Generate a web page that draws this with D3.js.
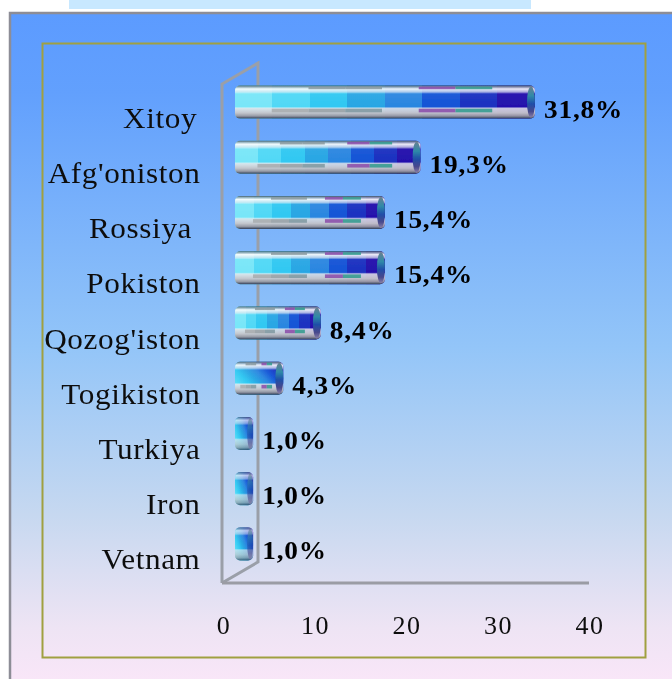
<!DOCTYPE html>
<html><head><meta charset="utf-8">
<script src="https://cdn.jsdelivr.net/npm/d3@7"></script>
<style>html,body{margin:0;padding:0;background:#fff;overflow:hidden}svg{display:block}text{font-family:"Liberation Serif",serif}</style>
</head><body><svg id="c" width="672" height="679"></svg>
<script>
const categories=["Xitoy\u200a","Afg'oniston","Rossiya ","Pokiston","Qozog'iston","Togikiston","Turkiya","Iron","Vetnam"];
const values=[31.8,19.3,15.4,15.4,8.4,4.3,1.0,1.0,1.0];
const valueLabels=["31,8%","19,3%","15,4%","15,4%","8,4%","4,3%","1,0%","1,0%","1,0%"];
const ticks=[0,10,20,30,40];
const bandColors=["#78e6f8","#50d8f6","#30c8f2","#28a6e4","#2a86e0","#1454d6","#1a30c0","#2410ac"];
const bandTopMarks=[null,null,"#8a9aa0","#8a9aa0",null,"#8a4aa8","#2f9a8c",null];
const bandBottomMarks=[null,"#a8acae","#98a0a4","#7f98a0",null,"#8a4aa8","#2f9a8c",null];
const svg=d3.select("#c"),defs=svg.append("defs");
const x=d3.scaleLinear().domain([0,40]).range([223,589]);
const y=d3.scaleBand().domain(categories).range([74.5,571.5]).paddingInner(0).paddingOuter(0);
const soft=defs.append("filter").attr("id","soft").attr("x","-5%").attr("y","-5%").attr("width","110%").attr("height","110%");
soft.append("feGaussianBlur").attr("stdDeviation",0.55);
const softT=defs.append("filter").attr("id","softT").attr("x","-5%").attr("y","-10%").attr("width","110%").attr("height","120%");
softT.append("feGaussianBlur").attr("stdDeviation",0.3);
const bg=defs.append("linearGradient").attr("id","bg").attr("x1",0).attr("y1",0).attr("x2",0).attr("y2",1);
[[0,"#5c9bff"],[.12,"#62a0fd"],[.5,"#93c5f8"],[.75,"#c6d8f0"],[.92,"#eee4f4"],[1,"#f9e6f8"]].forEach(s=>bg.append("stop").attr("offset",s[0]).attr("stop-color",s[1]));
const bands=defs.append("linearGradient").attr("id","bands");
bandColors.forEach((c,i)=>{const n=bandColors.length;
  bands.append("stop").attr("offset",i/n).attr("stop-color",c);
  bands.append("stop").attr("offset",(i+1)/n).attr("stop-color",c);});
const diag=defs.append("linearGradient").attr("id","bandsDiag").attr("x1",0).attr("y1",.85).attr("x2",1).attr("y2",.15);
bandColors.forEach((c,i)=>diag.append("stop").attr("offset",i/(bandColors.length-1)).attr("stop-color",c));
const shade=defs.append("linearGradient").attr("id","shade").attr("x1",0).attr("y1",0).attr("x2",0).attr("y2",1);
[["#3c5664",.95,0],["#98a4ae",.8,.04],["#ffffff",.92,.10],["#e8ecf2",.7,.19],["#ffffff",.04,.25],["#ffffff",0,.64],["#e6e5ea",.85,.69],["#c6c4ca",.95,.83],["#9a98a2",.95,.92],["#2c3a54",1,1]]
 .forEach(s=>shade.append("stop").attr("offset",s[2]).attr("stop-color",s[0]).attr("stop-opacity",s[1]));
const cap=defs.append("linearGradient").attr("id","cap").attr("x1",0).attr("y1",0).attr("x2",0).attr("y2",1);
[["#6a8090",0],["#2f8aa8",.3],["#1f4fa8",.55],["#48488c",.8],["#8a80a8",1]].forEach(s=>cap.append("stop").attr("offset",s[1]).attr("stop-color",s[0]));

svg.append("rect").attr("x",10).attr("y",13).attr("width",664).attr("height",668).attr("fill","url(#bg)").attr("stroke","#8d8d96").attr("stroke-width",2.5);
svg.append("rect").attr("x",69).attr("y",0).attr("width",462).attr("height",9).attr("fill","#c8e8ff");
svg.append("rect").attr("x",42.5).attr("y",43.5).attr("width",603).attr("height",614).attr("fill","none").attr("stroke","#a0a040").attr("stroke-width",2);

const wall=d3.line();
const X0=x(0)-1,DX=36,DY=21,T=84,B=583;
svg.append("path").attr("d",wall([[X0,B],[X0,T],[X0+DX,T-DY],[X0+DX,B-DY],[X0,B]])).attr("fill","none").attr("stroke","#9a9fa8").attr("stroke-width",3);
svg.append("line").attr("x1",X0).attr("x2",x(40)).attr("y1",B).attr("y2",B).attr("stroke","#9a9ca4").attr("stroke-width",3);

const START=12,END=21,H=33;
const g=svg.append("g").attr("filter","url(#soft)");
const bar=g.selectAll("g").data(values).join("g");
bar.each(function(v,i){
 const s=d3.select(this),top=y(categories[i])+y.bandwidth()/2-H/2,left=x(0)+START,w=x(v)+END-left;
 s.append("rect").attr("x",left).attr("y",top).attr("width",w).attr("height",H).attr("rx",5).attr("fill",w<60?"url(#bandsDiag)":"url(#bands)");
 s.append("rect").attr("x",left).attr("y",top).attr("width",w).attr("height",H).attr("rx",5).attr("fill","url(#shade)").attr("opacity",w<30?.75:1);
 if(w>30){
  const n=bandColors.length,sw=(w-6)/n;
  bandTopMarks.forEach((c,k)=>{if(c)s.append("rect").attr("x",left+k*sw).attr("y",top+H*.03).attr("width",sw).attr("height",H*.08).attr("fill",c).attr("opacity",.85);});
  bandBottomMarks.forEach((c,k)=>{if(c)s.append("rect").attr("x",left+k*sw).attr("y",top+H*.70).attr("width",sw).attr("height",H*.11).attr("fill",c).attr("opacity",.85);});
 }
 s.append("ellipse").attr("cx",left+w-(w<30?3:4)).attr("cy",top+H/2).attr("rx",w<30?3:4).attr("ry",H/2-1).attr("fill","url(#cap)").attr("opacity",w<30?.6:1);
});

const SX_CAT=1.04,SX_VAL=1.05;
svg.append("g").attr("filter","url(#softT)").selectAll("text").data(categories).join("text")
 .attr("transform",c=>`translate(200.5,${y(c)+y.bandwidth()/2+25.5}) scale(${SX_CAT},1)`).attr("text-anchor","end")
 .style("white-space","pre").style("letter-spacing","0.6px").attr("font-size",30).attr("fill","#111").text(c=>c);
svg.append("g").attr("filter","url(#softT)").selectAll("text").data(values).join("text")
 .attr("transform",(v,i)=>`translate(${x(v)+END+9},${y(categories[i])+y.bandwidth()/2+15.5}) scale(${SX_VAL},1)`)
 .style("letter-spacing","0.8px").attr("font-size",26).attr("font-weight","bold").attr("fill","#000").text((v,i)=>valueLabels[i]);

const axis=d3.axisBottom(x).tickValues(ticks).tickSize(0).tickPadding(0).tickFormat(d3.format("d"));
const ag=svg.append("g").attr("transform","translate(0,616)").attr("filter","url(#softT)").call(axis);
ag.select(".domain").remove();
ag.selectAll("text").attr("font-size",26).attr("font-family","Liberation Serif").attr("fill","#111").attr("dy",".69em").style("letter-spacing","1.5px");
ag.selectAll(".tick").attr("transform",d=>`translate(${x(d)+1},0)`);
</script></body></html>
